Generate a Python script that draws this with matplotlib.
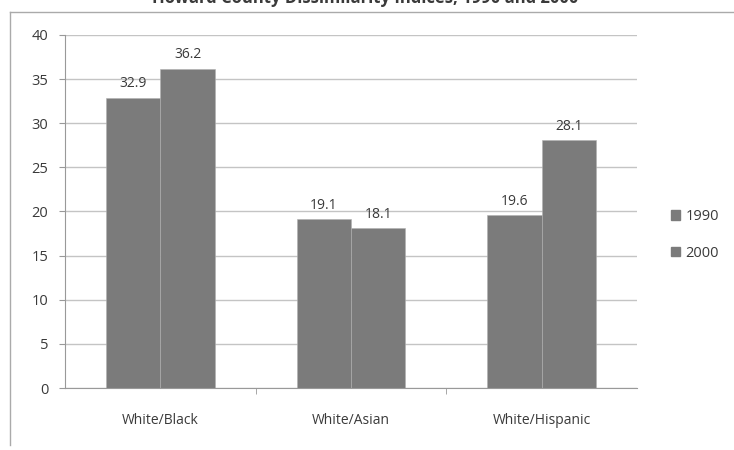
import matplotlib
matplotlib.use("Agg")
import matplotlib.pyplot as plt
from matplotlib.patches import Rectangle
import numpy as np

categories = ["White/Black", "White/Asian", "White/Hispanic"]
years = ["1990", "2000"]
values_1990 = [32.9, 19.1, 19.6]
values_2000 = [36.2, 18.1, 28.1]
yticks = [0, 5, 10, 15, 20, 25, 30, 35, 40]

plt.rcParams["font.family"] = ["Open Sans", "DejaVu Sans"]

fig = plt.figure(figsize=(7.34, 4.5), dpi=100)
ax = fig.add_axes([65 / 734, 1 - 388 / 450, (637 - 65) / 734, (388 - 35) / 450])

bar_color = "#7b7b7b"
text_color = "#3a3a3a"
grid_color = "#c4c4c4"

x = np.arange(len(categories))
w = 0.285
b1 = ax.bar(x - w / 2, values_1990, w, color=bar_color, edgecolor="#b0b0b0", linewidth=0.4, zorder=2)
b2 = ax.bar(x + w / 2, values_2000, w, color=bar_color, edgecolor="#b0b0b0", linewidth=0.4, zorder=2)

for bars, vals in ((b1, values_1990), (b2, values_2000)):
    for rect, v in zip(bars, vals):
        ax.annotate(f"{v:.1f}", (rect.get_x() + rect.get_width() / 2, v),
                    xytext=(0, 10), textcoords="offset points",
                    ha="center", va="center", fontsize=10, color=text_color)

ax.set_xlim(-0.5, 2.5)
ax.set_ylim(0, 40)
ax.set_yticks(yticks)
ax.set_yticklabels([str(t) for t in yticks], fontsize=10.5, color=text_color)
ax.yaxis.grid(True, color=grid_color, linewidth=1.0, zorder=0)
ax.set_axisbelow(True)

ax.set_xticks(x)
ax.set_xticklabels(categories, fontsize=10, color=text_color)
ax.tick_params(axis="x", length=0, pad=18)
ax.set_xticks([0.5, 1.5], minor=True)
ax.tick_params(axis="x", which="minor", length=4, color="#999999", direction="out")
ax.tick_params(axis="y", length=4, color="#999999", pad=8)

for s in ("top", "right"):
    ax.spines[s].set_visible(False)
ax.spines["left"].set_color("#999999")
ax.spines["bottom"].set_color("#999999")

# legend entries
handles = [Rectangle((0, 0), 1, 1, color=bar_color) for _ in years]
leg = fig.legend(handles, years, loc="center left", bbox_to_anchor=(658 / 734, 1 - 235 / 450),
                 frameon=False, fontsize=10.5, handlelength=0.6, handleheight=0.6,
                 handletextpad=0.4, labelspacing=1.5, labelcolor=text_color)

# chart-area border
fig.add_artist(plt.Line2D([10 / 734, 10 / 734], [1 - 445 / 450, 1 - 12 / 450],
                          transform=fig.transFigure, color="#aaaaaa", linewidth=1))
fig.add_artist(plt.Line2D([10 / 734, 1.0], [1 - 12 / 450, 1 - 12 / 450],
                          transform=fig.transFigure, color="#aaaaaa", linewidth=1))

fig.text(365 / 734, 1 + 2 / 450, "Howard County Dissimilarity Indices, 1990 and 2000",
         ha="center", va="center", fontsize=12, fontweight="bold", color=text_color)

fig.savefig("out.png", dpi=100)
